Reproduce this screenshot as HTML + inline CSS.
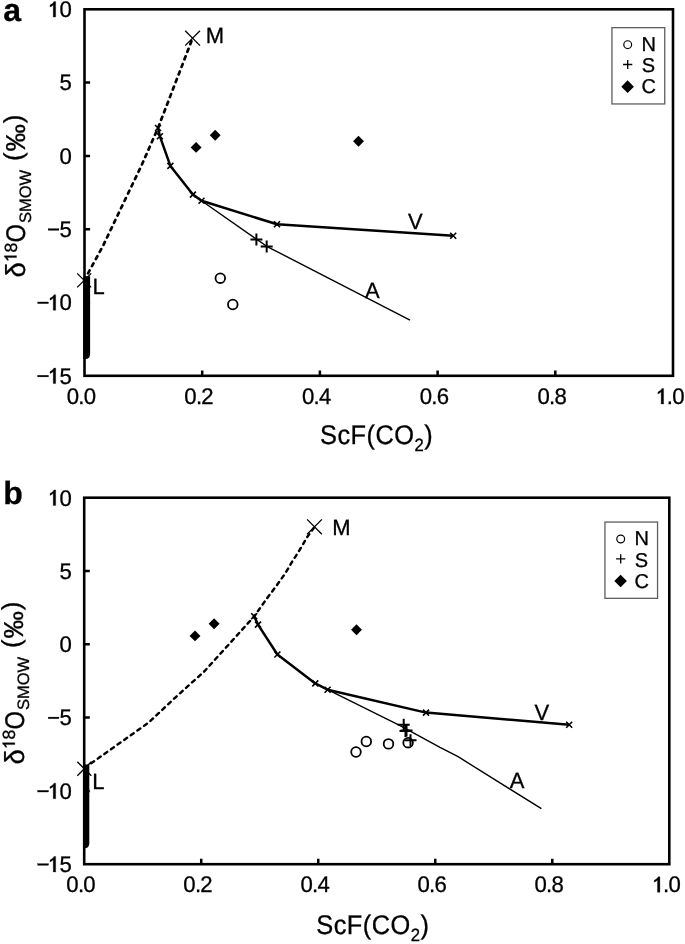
<!DOCTYPE html>
<html><head><meta charset="utf-8"><style>
html,body{margin:0;padding:0;background:#fff;width:685px;height:944px;overflow:hidden;}
svg{display:block;font-family:"Liberation Sans", sans-serif;text-rendering:geometricPrecision;filter:grayscale(1);} text{stroke:#000;stroke-width:0.3px;}
</style></head><body>
<svg width="685" height="944" viewBox="0 0 685 944" font-family='"Liberation Sans", sans-serif'>
<rect width="685" height="944" fill="#fff"/>
<text x="3.20" y="21.00" font-size="32" text-anchor="start" font-weight="bold">a</text>
<g transform="translate(47.21,17.10) scale(0.98,1)"><path transform="translate(0.000,0) scale(22.6)" d="M0.272,0L0.382,0L0.382,-0.688L0.305,-0.688C0.280,-0.630 0.205,-0.565 0.125,-0.530L0.125,-0.447C0.185,-0.472 0.240,-0.505 0.272,-0.540Z" fill="#000" stroke="#000" stroke-width="0.0133"/><text x="12.569" y="0" font-size="22.6" >0</text></g>
<g transform="translate(59.53,90.40) scale(0.98,1)"><text x="0.000" y="0" font-size="22.6" >5</text></g>
<g transform="translate(59.53,163.70) scale(0.98,1)"><text x="0.000" y="0" font-size="22.6" >0</text></g>
<g transform="translate(46.60,237.00) scale(0.98,1)"><rect x="1.618" y="-8.317" width="10.984" height="1.627" fill="#000" stroke="#000" stroke-width="0.3"/><text x="13.198" y="0" font-size="22.6" >5</text></g>
<g transform="translate(34.28,310.30) scale(0.98,1)"><rect x="3.556" y="-8.317" width="10.984" height="1.627" fill="#000" stroke="#000" stroke-width="0.3"/><path transform="translate(13.198,0) scale(22.6)" d="M0.272,0L0.382,0L0.382,-0.688L0.305,-0.688C0.280,-0.630 0.205,-0.565 0.125,-0.530L0.125,-0.447C0.185,-0.472 0.240,-0.505 0.272,-0.540Z" fill="#000" stroke="#000" stroke-width="0.0133"/><text x="25.767" y="0" font-size="22.6" >0</text></g>
<g transform="translate(34.28,383.60) scale(0.98,1)"><rect x="3.556" y="-8.317" width="10.984" height="1.627" fill="#000" stroke="#000" stroke-width="0.3"/><path transform="translate(13.198,0) scale(22.6)" d="M0.272,0L0.382,0L0.382,-0.688L0.305,-0.688C0.280,-0.630 0.205,-0.565 0.125,-0.530L0.125,-0.447C0.185,-0.472 0.240,-0.505 0.272,-0.540Z" fill="#000" stroke="#000" stroke-width="0.0133"/><text x="25.767" y="0" font-size="22.6" >5</text></g>
<g transform="translate(66.64,404.00) scale(0.98,1)"><text x="0.000" y="0" font-size="22.6" >0</text><text x="11.819" y="0" font-size="22.6" >.</text><text x="17.348" y="0" font-size="22.6" >0</text></g>
<g transform="translate(184.34,404.00) scale(0.98,1)"><text x="0.000" y="0" font-size="22.6" >0</text><text x="11.819" y="0" font-size="22.6" >.</text><text x="17.348" y="0" font-size="22.6" >2</text></g>
<g transform="translate(302.04,404.00) scale(0.98,1)"><text x="0.000" y="0" font-size="22.6" >0</text><text x="11.819" y="0" font-size="22.6" >.</text><text x="17.348" y="0" font-size="22.6" >4</text></g>
<g transform="translate(419.74,404.00) scale(0.98,1)"><text x="0.000" y="0" font-size="22.6" >0</text><text x="11.819" y="0" font-size="22.6" >.</text><text x="17.348" y="0" font-size="22.6" >6</text></g>
<g transform="translate(537.44,404.00) scale(0.98,1)"><text x="0.000" y="0" font-size="22.6" >0</text><text x="11.819" y="0" font-size="22.6" >.</text><text x="17.348" y="0" font-size="22.6" >8</text></g>
<g transform="translate(655.14,404.00) scale(0.98,1)"><path transform="translate(0.000,0) scale(22.6)" d="M0.272,0L0.382,0L0.382,-0.688L0.305,-0.688C0.280,-0.630 0.205,-0.565 0.125,-0.530L0.125,-0.447C0.185,-0.472 0.240,-0.505 0.272,-0.540Z" fill="#000" stroke="#000" stroke-width="0.0133"/><text x="11.819" y="0" font-size="22.6" >.</text><text x="17.348" y="0" font-size="22.6" >0</text></g>
<path d="M84.50,82.60h5.6M84.50,155.90h5.6M84.50,229.20h5.6M84.50,302.50h5.6M202.20,375.80v-5.4M319.90,375.80v-5.4M437.60,375.80v-5.4M555.30,375.80v-5.4" stroke="#000" stroke-width="2.5" fill="none"/>
<rect x="84.50" y="9.30" width="588.50" height="366.50" stroke="#000" stroke-width="2.6" fill="none"/>
<path d="M83.2,276.3H90.1V354.0Q90.1,359.0 85.5,359.0H83.2Z" fill="#000"/>
<path d="M84.20,280.40L102.90,246.10L122.70,204.70L141.70,165.00L158.00,128.00L192.60,38.20" stroke="#000" stroke-width="2.7" fill="none" stroke-linejoin="round" stroke-dasharray="3.2 4.9" stroke-linecap="round"/>
<path d="M158.00,128.00L159.90,136.30L170.40,165.90L192.90,194.60L201.50,200.80L277.00,224.20L453.20,235.80" stroke="#000" stroke-width="2.5" fill="none" stroke-linejoin="round"/>
<path d="M201.50,200.80L266.70,246.30L410.00,320.20" stroke="#000" stroke-width="1.4" fill="none" stroke-linejoin="round"/>
<path d="M155.00,125.00L161.00,131.00M155.00,131.00L161.00,125.00" stroke="#000" stroke-width="1.6" fill="none"/>
<path d="M156.90,133.30L162.90,139.30M156.90,139.30L162.90,133.30" stroke="#000" stroke-width="1.6" fill="none"/>
<path d="M167.40,162.90L173.40,168.90M167.40,168.90L173.40,162.90" stroke="#000" stroke-width="1.6" fill="none"/>
<path d="M189.90,191.60L195.90,197.60M189.90,197.60L195.90,191.60" stroke="#000" stroke-width="1.6" fill="none"/>
<path d="M198.50,197.80L204.50,203.80M198.50,203.80L204.50,197.80" stroke="#000" stroke-width="1.6" fill="none"/>
<path d="M274.00,221.20L280.00,227.20M274.00,227.20L280.00,221.20" stroke="#000" stroke-width="1.6" fill="none"/>
<path d="M450.20,232.80L456.20,238.80M450.20,238.80L456.20,232.80" stroke="#000" stroke-width="1.6" fill="none"/>
<path d="M185.20,30.80L200.00,45.60M185.20,45.60L200.00,30.80" stroke="#000" stroke-width="1.3" fill="none"/>
<path d="M77.20,273.40L91.20,287.40M77.20,287.40L91.20,273.40" stroke="#000" stroke-width="1.3" fill="none"/>
<circle cx="220.30" cy="278.20" r="4.8" stroke="#000" stroke-width="1.8" fill="none"/>
<circle cx="232.80" cy="304.50" r="4.8" stroke="#000" stroke-width="1.8" fill="none"/>
<path d="M250.40,239.40H262.40M256.40,233.40V245.40" stroke="#000" stroke-width="2.0" fill="none"/>
<path d="M260.70,246.50H272.70M266.70,240.50V252.50" stroke="#000" stroke-width="2.0" fill="none"/>
<path d="M196.10,141.95L201.55,147.40L196.10,152.85L190.65,147.40Z" fill="#000"/>
<path d="M215.20,129.85L220.65,135.30L215.20,140.75L209.75,135.30Z" fill="#000"/>
<path d="M358.50,135.85L363.95,141.30L358.50,146.75L353.05,141.30Z" fill="#000"/>
<text x="205.80" y="43.10" font-size="22">M</text>
<text x="92.40" y="293.90" font-size="22">L</text>
<text x="408.00" y="228.90" font-size="22">V</text>
<text x="365.00" y="297.70" font-size="22">A</text>
<rect x="611.95" y="27.65" width="52.80" height="76.30" stroke="#5e5e5e" stroke-width="1.3" fill="#fff"/>
<circle cx="627.70" cy="44.65" r="3.9" stroke="#000" stroke-width="1.2" fill="none"/>
<path d="M623.10,64.50H632.30M627.70,59.90V69.10" stroke="#000" stroke-width="1.3" fill="none"/>
<path d="M627.60,80.35L633.90,86.65L627.60,92.95L621.30,86.65Z" fill="#000"/>
<text x="641.40" y="50.80" font-size="20" text-anchor="start" >N</text>
<text x="641.70" y="72.10" font-size="20" text-anchor="start" >S</text>
<text x="641.60" y="93.40" font-size="20" text-anchor="start" >C</text>
<g transform="translate(320.00,444.00) scale(0.94,1)"><text x="0" y="0" font-size="27" letter-spacing="0.5">ScF(CO<tspan font-size="17.8" dy="7">2</tspan><tspan dy="-7">)</tspan></text></g>
<g transform="translate(25.00,280.00) rotate(-90)"><text x="2.55" y="0.3" font-size="27.5">δ</text><g transform="translate(17.60,-8.50) scale(1,1)"><path transform="translate(0.000,0) scale(17.7)" d="M0.272,0L0.382,0L0.382,-0.688L0.305,-0.688C0.280,-0.630 0.205,-0.565 0.125,-0.530L0.125,-0.447C0.185,-0.472 0.240,-0.505 0.272,-0.540Z" fill="#000" stroke="#000" stroke-width="0.0169"/><text x="9.844" y="0" font-size="17.7" >8</text></g><text transform="translate(37.6,0.2) scale(0.88,1)" font-size="27">O</text><text x="56.900000000000006" y="5.8" font-size="16.5">SMOW</text><text x="118.9" y="-3" font-size="26">(</text><text x="128.6" y="0" font-size="27.4">‰</text><text x="156.7" y="-3" font-size="26">)</text></g>
<text x="3.20" y="504.20" font-size="32" text-anchor="start" font-weight="bold">b</text>
<g transform="translate(47.21,505.50) scale(0.98,1)"><path transform="translate(0.000,0) scale(22.6)" d="M0.272,0L0.382,0L0.382,-0.688L0.305,-0.688C0.280,-0.630 0.205,-0.565 0.125,-0.530L0.125,-0.447C0.185,-0.472 0.240,-0.505 0.272,-0.540Z" fill="#000" stroke="#000" stroke-width="0.0133"/><text x="12.569" y="0" font-size="22.6" >0</text></g>
<g transform="translate(59.53,578.80) scale(0.98,1)"><text x="0.000" y="0" font-size="22.6" >5</text></g>
<g transform="translate(59.53,652.10) scale(0.98,1)"><text x="0.000" y="0" font-size="22.6" >0</text></g>
<g transform="translate(46.60,725.40) scale(0.98,1)"><rect x="1.618" y="-8.317" width="10.984" height="1.627" fill="#000" stroke="#000" stroke-width="0.3"/><text x="13.198" y="0" font-size="22.6" >5</text></g>
<g transform="translate(34.28,798.70) scale(0.98,1)"><rect x="3.556" y="-8.317" width="10.984" height="1.627" fill="#000" stroke="#000" stroke-width="0.3"/><path transform="translate(13.198,0) scale(22.6)" d="M0.272,0L0.382,0L0.382,-0.688L0.305,-0.688C0.280,-0.630 0.205,-0.565 0.125,-0.530L0.125,-0.447C0.185,-0.472 0.240,-0.505 0.272,-0.540Z" fill="#000" stroke="#000" stroke-width="0.0133"/><text x="25.767" y="0" font-size="22.6" >0</text></g>
<g transform="translate(34.28,872.00) scale(0.98,1)"><rect x="3.556" y="-8.317" width="10.984" height="1.627" fill="#000" stroke="#000" stroke-width="0.3"/><path transform="translate(13.198,0) scale(22.6)" d="M0.272,0L0.382,0L0.382,-0.688L0.305,-0.688C0.280,-0.630 0.205,-0.565 0.125,-0.530L0.125,-0.447C0.185,-0.472 0.240,-0.505 0.272,-0.540Z" fill="#000" stroke="#000" stroke-width="0.0133"/><text x="25.767" y="0" font-size="22.6" >5</text></g>
<g transform="translate(66.34,892.30) scale(0.98,1)"><text x="0.000" y="0" font-size="22.6" >0</text><text x="11.819" y="0" font-size="22.6" >.</text><text x="17.348" y="0" font-size="22.6" >0</text></g>
<g transform="translate(183.36,892.30) scale(0.98,1)"><text x="0.000" y="0" font-size="22.6" >0</text><text x="11.819" y="0" font-size="22.6" >.</text><text x="17.348" y="0" font-size="22.6" >2</text></g>
<g transform="translate(300.38,892.30) scale(0.98,1)"><text x="0.000" y="0" font-size="22.6" >0</text><text x="11.819" y="0" font-size="22.6" >.</text><text x="17.348" y="0" font-size="22.6" >4</text></g>
<g transform="translate(417.40,892.30) scale(0.98,1)"><text x="0.000" y="0" font-size="22.6" >0</text><text x="11.819" y="0" font-size="22.6" >.</text><text x="17.348" y="0" font-size="22.6" >6</text></g>
<g transform="translate(534.42,892.30) scale(0.98,1)"><text x="0.000" y="0" font-size="22.6" >0</text><text x="11.819" y="0" font-size="22.6" >.</text><text x="17.348" y="0" font-size="22.6" >8</text></g>
<g transform="translate(651.44,892.30) scale(0.98,1)"><path transform="translate(0.000,0) scale(22.6)" d="M0.272,0L0.382,0L0.382,-0.688L0.305,-0.688C0.280,-0.630 0.205,-0.565 0.125,-0.530L0.125,-0.447C0.185,-0.472 0.240,-0.505 0.272,-0.540Z" fill="#000" stroke="#000" stroke-width="0.0133"/><text x="11.819" y="0" font-size="22.6" >.</text><text x="17.348" y="0" font-size="22.6" >0</text></g>
<path d="M84.20,571.00h5.6M84.20,644.30h5.6M84.20,717.60h5.6M84.20,790.90h5.6M201.22,864.20v-5.4M318.24,864.20v-5.4M435.26,864.20v-5.4M552.28,864.20v-5.4" stroke="#000" stroke-width="2.5" fill="none"/>
<rect x="84.20" y="497.70" width="585.10" height="366.50" stroke="#000" stroke-width="2.6" fill="none"/>
<path d="M83.0,764.6H89.3V843.2Q89.3,848.2 84.7,848.2H83.0Z" fill="#000"/>
<path d="M84.50,768.00L148.90,722.40L175.00,697.80L203.90,671.80L230.20,642.90L254.20,616.30L266.90,598.40L276.50,585.70L285.50,573.00L292.40,561.30L299.80,549.70L307.20,537.00L314.60,526.90" stroke="#000" stroke-width="2.4" fill="none" stroke-linejoin="round" stroke-dasharray="3.6 4.5" stroke-linecap="round"/>
<path d="M254.20,616.30L258.00,624.60L277.40,654.50L315.30,683.40L327.60,689.70L426.00,712.60L569.20,724.70" stroke="#000" stroke-width="2.5" fill="none" stroke-linejoin="round"/>
<path d="M327.60,689.70L400.60,725.90L440.00,747.40L458.10,756.70L541.40,808.70" stroke="#000" stroke-width="1.4" fill="none" stroke-linejoin="round"/>
<path d="M251.20,613.30L257.20,619.30M251.20,619.30L257.20,613.30" stroke="#000" stroke-width="1.6" fill="none"/>
<path d="M255.00,621.60L261.00,627.60M255.00,627.60L261.00,621.60" stroke="#000" stroke-width="1.6" fill="none"/>
<path d="M274.40,651.50L280.40,657.50M274.40,657.50L280.40,651.50" stroke="#000" stroke-width="1.6" fill="none"/>
<path d="M312.30,680.40L318.30,686.40M312.30,686.40L318.30,680.40" stroke="#000" stroke-width="1.6" fill="none"/>
<path d="M324.60,686.70L330.60,692.70M324.60,692.70L330.60,686.70" stroke="#000" stroke-width="1.6" fill="none"/>
<path d="M423.00,709.60L429.00,715.60M423.00,715.60L429.00,709.60" stroke="#000" stroke-width="1.6" fill="none"/>
<path d="M566.20,721.70L572.20,727.70M566.20,727.70L572.20,721.70" stroke="#000" stroke-width="1.6" fill="none"/>
<path d="M307.10,519.40L321.90,534.20M307.10,534.20L321.90,519.40" stroke="#000" stroke-width="1.3" fill="none"/>
<path d="M77.30,761.70L91.30,775.70M77.30,775.70L91.30,761.70" stroke="#000" stroke-width="1.3" fill="none"/>
<circle cx="356.00" cy="752.00" r="4.8" stroke="#000" stroke-width="1.8" fill="none"/>
<circle cx="366.30" cy="741.50" r="4.8" stroke="#000" stroke-width="1.8" fill="none"/>
<circle cx="388.50" cy="743.90" r="4.8" stroke="#000" stroke-width="1.8" fill="none"/>
<circle cx="408.10" cy="742.70" r="4.8" stroke="#000" stroke-width="1.8" fill="none"/>
<path d="M397.70,724.80H409.70M403.70,718.80V730.80" stroke="#000" stroke-width="2.0" fill="none"/>
<path d="M399.50,731.00H411.50M405.50,725.00V737.00" stroke="#000" stroke-width="2.0" fill="none"/>
<path d="M400.50,730.50H412.50M406.50,724.50V736.50" stroke="#000" stroke-width="2.0" fill="none"/>
<path d="M404.50,740.30H416.50M410.50,734.30V746.30" stroke="#000" stroke-width="2.0" fill="none"/>
<path d="M195.00,630.45L200.45,635.90L195.00,641.35L189.55,635.90Z" fill="#000"/>
<path d="M214.10,618.35L219.55,623.80L214.10,629.25L208.65,623.80Z" fill="#000"/>
<path d="M356.50,624.35L361.95,629.80L356.50,635.25L351.05,629.80Z" fill="#000"/>
<text x="332.20" y="535.00" font-size="22">M</text>
<text x="92.20" y="788.60" font-size="22">L</text>
<text x="534.40" y="720.40" font-size="22">V</text>
<text x="509.80" y="788.30" font-size="22">A</text>
<rect x="604.95" y="522.05" width="52.60" height="76.30" stroke="#5e5e5e" stroke-width="1.3" fill="#fff"/>
<circle cx="620.70" cy="539.05" r="3.9" stroke="#000" stroke-width="1.2" fill="none"/>
<path d="M616.10,558.90H625.30M620.70,554.30V563.50" stroke="#000" stroke-width="1.3" fill="none"/>
<path d="M620.60,574.75L626.90,581.05L620.60,587.35L614.30,581.05Z" fill="#000"/>
<text x="634.40" y="545.20" font-size="20" text-anchor="start" >N</text>
<text x="634.70" y="566.50" font-size="20" text-anchor="start" >S</text>
<text x="634.60" y="587.80" font-size="20" text-anchor="start" >C</text>
<g transform="translate(316.30,934.30) scale(0.94,1)"><text x="0" y="0" font-size="27" letter-spacing="0.5">ScF(CO<tspan font-size="17.8" dy="7">2</tspan><tspan dy="-7">)</tspan></text></g>
<g transform="translate(23.30,767.00) rotate(-90)"><text x="2.55" y="0.3" font-size="27.5">δ</text><g transform="translate(17.60,-8.50) scale(1,1)"><path transform="translate(0.000,0) scale(17.7)" d="M0.272,0L0.382,0L0.382,-0.688L0.305,-0.688C0.280,-0.630 0.205,-0.565 0.125,-0.530L0.125,-0.447C0.185,-0.472 0.240,-0.505 0.272,-0.540Z" fill="#000" stroke="#000" stroke-width="0.0169"/><text x="9.844" y="0" font-size="17.7" >8</text></g><text transform="translate(37.6,0.2) scale(0.88,1)" font-size="27">O</text><text x="56.900000000000006" y="5.8" font-size="16.5">SMOW</text><text x="118.9" y="-3" font-size="26">(</text><text x="128.6" y="0" font-size="27.4">‰</text><text x="156.7" y="-3" font-size="26">)</text></g>
</svg>
</body></html>
